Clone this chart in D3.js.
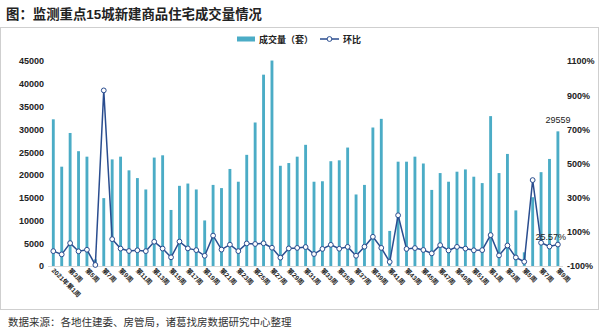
<!DOCTYPE html>
<html>
<head>
<meta charset="utf-8">
<script src="https://cdn.jsdelivr.net/npm/d3@7"></script>
<style>
  html, body { margin: 0; padding: 0; background: #fff; }
  svg { display: block; }
  text { font-family: "Liberation Sans", "Noto Sans CJK SC", Arial, sans-serif; }
</style>
</head>
<body>
<svg id="chart" width="600" height="334"></svg>
<script>
// Weekly transaction volume (units) for the 15 monitored cities
const weeks = [
  "2021年第1周","第2周","第3周","第4周","第5周","第6周","第7周","第8周","第9周","第10周",
  "第11周","第12周","第13周","第14周","第15周","第16周","第17周","第18周","第19周","第20周",
  "第21周","第22周","第23周","第24周","第25周","第26周","第27周","第28周","第29周","第30周",
  "第31周","第32周","第33周","第34周","第35周","第36周","第37周","第38周","第39周","第40周",
  "第41周","第42周","第43周","第44周","第45周","第46周","第47周","第48周","第49周","第50周",
  "第51周","第52周","第1周","第2周","第3周","第4周","第5周","第6周","第7周","第8周","第9周"
];
const volume = [
  32200, 21800, 29200, 25200, 24000, 1450, 14900, 23400, 24000, 21000,
  19300, 16800, 23800, 24300, 12300, 17600, 18100, 16800, 10000, 17800,
  17100, 21300, 18500, 24400, 31500, 42000, 45100, 22000, 22600, 24000,
  26600, 18500, 18600, 23000, 23200, 26000, 15700, 17800, 30400, 32300,
  7700, 22900, 22900, 24000, 22500, 16700, 20400, 18500, 20700, 21200,
  19600, 18200, 32900, 20400, 24600, 12200, 3000, 15100, 20600, 23500, 29559
];
// Week-over-week change, percent
const wow = [
  -13, -32, 34, -14, -5, -94, 928, 57, 2, -12,
  -8, -13, 42, 2, -49, 43, 3, -7, -40, 78,
  -4, 25, -13, 32, 29, 33, 7, -51, 3, 6,
  11, -30, 0, 24, 1, 12, -40, 13, 71, 6,
  -76, 197, 0, 5, -6, -26, 22, -9, 12, 2,
  -8, -7, 81, -38, 20, -50, -75, 403, 36, 14, 25.57
];
const leftTicks = [0, 5000, 10000, 15000, 20000, 25000, 30000, 35000, 40000, 45000];
const rightTicks = [-100, 100, 300, 500, 700, 900, 1100];

const svg = d3.select("#chart");
const barColor = "#4bacc6";
const lineColor = "#2a4d8f";

// frame
svg.append("rect").attr("x", 0.5).attr("y", 27.5).attr("width", 598).attr("height", 282)
  .attr("fill", "none").attr("stroke", "#cfcfcf");

// title
svg.append("text").attr("x", 6).attr("y", 19)
  .attr("font-family", "'Noto Sans CJK SC', sans-serif")
  .attr("font-size", 13.4).attr("font-weight", "bold").attr("fill", "#222")
  .text("图：监测重点15城新建商品住宅成交量情况");

// source note
svg.append("text").attr("x", 8).attr("y", 326)
  .attr("font-family", "'Noto Sans CJK SC', sans-serif")
  .attr("font-size", 10.5).attr("fill", "#333")
  .text("数据来源：各地住建委、房管局，诸葛找房数据研究中心整理");

const idx = d3.range(volume.length);
const x = d3.scaleBand().domain(idx).range([49.1, 562.1]).paddingInner(0.66).paddingOuter(0.33);
const yL = d3.scaleLinear().domain([0, 45000]).range([266, 61]);
const yR = d3.scaleLinear().domain([-100, 1100]).range([266, 61]);
const cx = i => x(i) + x.bandwidth() / 2;

// left axis
const axL = svg.append("g").attr("transform", "translate(44,0)")
  .call(d3.axisLeft(yL).tickValues(leftTicks).tickSize(0).tickPadding(0).tickFormat(d3.format("d")));
axL.select(".domain").remove();
axL.selectAll("text").attr("font-size", 9).attr("font-weight", "bold").attr("fill", "#222")
  .attr("font-family", "'Liberation Sans', Arial, sans-serif");

// right axis
const axR = svg.append("g").attr("transform", "translate(567,0)")
  .call(d3.axisRight(yR).tickValues(rightTicks).tickSize(0).tickPadding(0).tickFormat(d => d + "%"));
axR.select(".domain").remove();
axR.selectAll("text").attr("font-size", 9).attr("font-weight", "bold").attr("fill", "#222")
  .attr("font-family", "'Liberation Sans', Arial, sans-serif");

// bars
svg.append("g").selectAll("rect").data(volume).join("rect")
  .attr("x", (d, i) => x(i)).attr("width", x.bandwidth())
  .attr("y", d => yL(d)).attr("height", d => yL(0) - yL(d))
  .attr("fill", barColor);

// category axis line
svg.append("line").attr("x1", 48).attr("x2", 563).attr("y1", 266.5).attr("y2", 266.5)
  .attr("stroke", "#d9d9d9").attr("stroke-width", 1);

// category labels, every other week
svg.append("g").selectAll("text").data(weeks.filter((d, i) => i % 2 === 0)).join("text")
  .attr("transform", (d, j) => `translate(${cx(j * 2) - 2},${271}) rotate(45)`)
  .attr("font-family", "'Noto Sans CJK SC', sans-serif")
  .attr("font-size", 6.5).attr("font-weight", "bold").attr("fill", "#222")
  .text(d => d);

// week-over-week line
const line = d3.line().x((d, i) => cx(i)).y(d => yR(d));
svg.append("path").datum(wow).attr("d", line)
  .attr("fill", "none").attr("stroke", lineColor).attr("stroke-width", 1.5);
svg.append("g").selectAll("circle").data(wow).join("circle")
  .attr("cx", (d, i) => cx(i)).attr("cy", d => yR(d)).attr("r", 2.4)
  .attr("fill", "#fff").attr("stroke", lineColor).attr("stroke-width", 1);

// value labels on the latest week
const last = volume.length - 1;
svg.append("text").attr("x", cx(last)).attr("y", yL(volume[last]) - 8)
  .attr("text-anchor", "middle").attr("font-size", 9).attr("fill", "#222")
  .text(volume[last]);
svg.append("text").attr("x", 566).attr("y", yR(wow[last]) - 5)
  .attr("text-anchor", "end").attr("font-size", 9).attr("fill", "#222")
  .text(wow[last] + "%");

// legend
const lg = svg.append("g");
lg.append("rect").attr("x", 237).attr("y", 36.5).attr("width", 18).attr("height", 5).attr("fill", barColor);
lg.append("text").attr("x", 259).attr("y", 43)
  .attr("font-family", "'Noto Sans CJK SC', sans-serif")
  .attr("font-size", 9).attr("font-weight", "bold").attr("fill", "#222").text("成交量（套）");
lg.append("line").attr("x1", 320).attr("x2", 339).attr("y1", 39).attr("y2", 39)
  .attr("stroke", lineColor).attr("stroke-width", 1.5);
lg.append("circle").attr("cx", 329.5).attr("cy", 39).attr("r", 2.4)
  .attr("fill", "#fff").attr("stroke", lineColor).attr("stroke-width", 1);
lg.append("text").attr("x", 343).attr("y", 43)
  .attr("font-family", "'Noto Sans CJK SC', sans-serif")
  .attr("font-size", 9).attr("font-weight", "bold").attr("fill", "#222").text("环比");
</script>
</body>
</html>
